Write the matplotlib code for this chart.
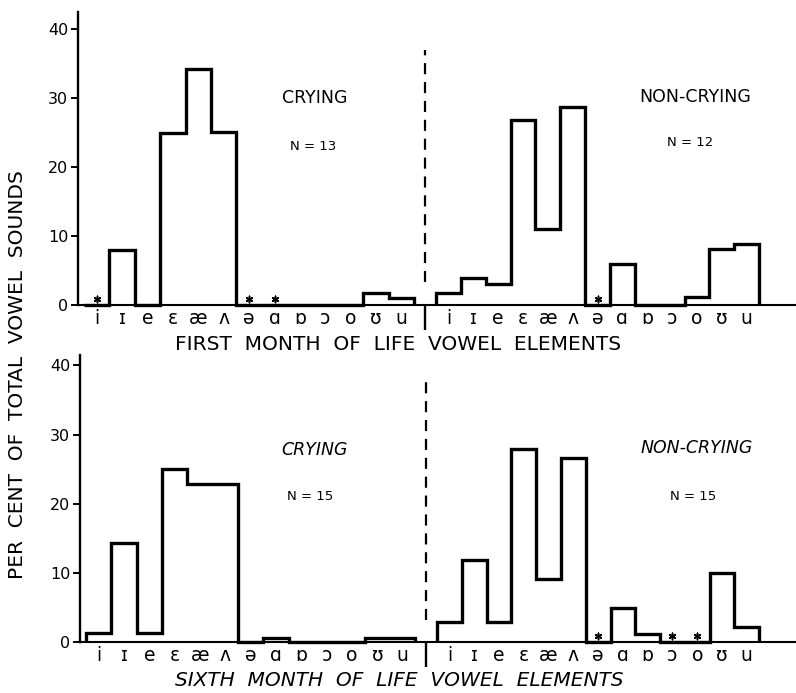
import numpy as np
import matplotlib
matplotlib.use("Agg")
import matplotlib.pyplot as plt

# vowel elements (same order in every group)
vowels = ['i', 'ɪ', 'e', 'ɛ', 'æ', 'ʌ', 'ə', 'ɑ', 'ɒ', 'ɔ', 'o', 'ʊ', 'u']

# per cent of total vowel sounds
cry_month1 = [0, 8.0, 0, 25.0, 34.3, 25.1, 0, 0, 0, 0, 0, 1.7, 1.0]
non_month1 = [1.7, 3.9, 3.0, 26.8, 11.0, 28.7, 0, 6.0, 0, 0, 1.1, 8.1, 8.8]
cry_month6 = [1.4, 14.3, 1.4, 25.1, 22.8, 22.8, 0, 0.6, 0, 0, 0, 0.6, 0.6]
non_month6 = [3.0, 11.9, 3.0, 27.9, 9.1, 26.6, 0, 5.0, 1.2, 0, 0, 10.0, 2.2]

# vowels marked with an asterisk
star_cry1 = ['i', 'ə', 'ɑ']
star_non1 = ['ə']
star_cry6 = []
star_non6 = ['ə', 'ɔ', 'o']

n_cry1, n_non1, n_cry6, n_non6 = 13, 12, 15, 15

W, H = 796, 693
fig = plt.figure(figsize=(W / 100, H / 100), dpi=100)

nb = len(vowels)
non_off = 13.86      # where the non-crying group starts (bin units)
non_w = 0.978        # non-crying bins are a touch narrower
divider = 13.43
cry_edges = np.arange(nb + 1)
non_edges = non_off + non_w * np.arange(nb + 1)
cry_centers = cry_edges[:-1] + 0.5
non_centers = non_edges[:-1] + non_w / 2

def ftext(x, y, s, **kw):
    # place text by pixel position from the top-left corner
    fig.text(x / W, 1 - y / H, s, ha='center', va='center', **kw)

def panel(rect, ytop, cry, non, s_cry, s_non, dash_y):
    ax = fig.add_axes(rect)
    ax.set_xlim(-0.24, 28.03)
    ax.set_ylim(0, ytop)
    for s in ['top', 'right']:
        ax.spines[s].set_visible(False)
    ax.spines['left'].set_linewidth(1.7)
    ax.spines['bottom'].set_linewidth(1.5)

    ax.stairs(cry, cry_edges, baseline=0, fill=False, color='black',
              lw=2.4, clip_on=False, joinstyle='miter')
    ax.stairs(non, non_edges, baseline=0, fill=False, color='black',
              lw=2.4, clip_on=False, joinstyle='miter')

    sx = [cry_centers[vowels.index(v)] for v in s_cry] + \
         [non_centers[vowels.index(v)] for v in s_non]
    if sx:
        ax.scatter(sx, [0.85] * len(sx), marker=(6, 2, 0), s=22,
                   color='black', lw=1.1, clip_on=False)

    ax.plot([divider, divider], dash_y, color='black', lw=1.6,
            dashes=(5, 3.5))

    ax.set_yticks([0, 10, 20, 30, 40])
    ax.set_yticklabels(['0', '10', '20', '30', '40'])
    ax.tick_params(axis='y', length=5, width=1.4, pad=2, labelsize=11.5)

    ax.set_xticks(np.concatenate([cry_centers, non_centers]))
    ax.set_xticklabels(vowels + vowels, fontsize=13.5)
    ax.tick_params(axis='x', which='major', length=0, pad=3)
    ax.set_xticks([divider], minor=True)
    ax.tick_params(axis='x', which='minor', length=18, width=1.7)
    return ax

panel([78 / W, 388 / H, 718 / W, 293 / H], 42.5,
      cry_month1, non_month1, star_cry1, star_non1, [3.3, 37.0])
panel([80 / W, 50.7 / H, 716 / W, 287.3 / H], 41.5,
      cry_month6, non_month6, star_cry6, star_non6, [3.2, 38.3])

# panel texts, first month
ftext(315, 98, 'CRYING', fontsize=12.5)
ftext(313, 146, 'N = %d' % n_cry1, fontsize=9.5)
ftext(695, 97, 'NON-CRYING', fontsize=12.5)
ftext(690, 142, 'N = %d' % n_non1, fontsize=9.5)
ftext(398, 345, 'FIRST  MONTH  OF  LIFE  VOWEL  ELEMENTS', fontsize=14.5)

# sixth month (lettered in italics in the original)
ftext(315, 450, 'CRYING', fontsize=12.5, style='italic')
ftext(310, 497, 'N = %d' % n_cry6, fontsize=9.5)
ftext(697, 448, 'NON-CRYING', fontsize=12.5, style='italic')
ftext(693, 496, 'N = %d' % n_non6, fontsize=9.5)
ftext(399, 680, 'SIXTH  MONTH  OF  LIFE  VOWEL  ELEMENTS', fontsize=14.5,
      style='italic')

ftext(18, 375, 'PER  CENT  OF  TOTAL  VOWEL  SOUNDS', rotation=90,
      fontsize=14.5)

fig.savefig('out.png', dpi=100, facecolor='white')
